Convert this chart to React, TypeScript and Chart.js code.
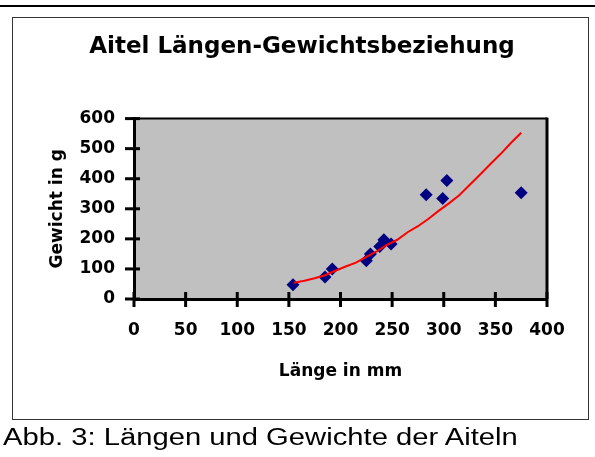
import React, { useEffect, useRef } from 'react';
import { Chart, registerables } from 'chart.js';

Chart.register(...registerables);

// ---- data ----
const lengthsMm = [154, 185, 192, 225, 229, 238, 242, 249, 283, 299, 303, 375];
const weightsG = [47, 73, 100, 127, 150, 175, 197, 183, 347, 334, 394, 353];

const trendLengthsMm = [155, 165, 175, 185, 195, 205, 215, 225, 235, 245, 255, 265, 275, 285, 295, 305, 315, 325, 335, 345, 355, 365, 375];
const trendWeightsG = [54, 61, 69, 79, 94, 108, 121, 140, 158, 180, 197, 222, 242, 266, 293, 318, 345, 379, 413, 448, 482, 519, 553];

const xMin = 0;
const xMax = 400;
const xStep = 50;
const yMin = 0;
const yMax = 600;
const yStep = 100;

const chartTitle = 'Aitel Längen-Gewichtsbeziehung';
const xTitle = 'Länge in mm';
const yTitle = 'Gewicht in g';
const caption = 'Abb. 3: Längen und Gewichte der Aiteln';

const frameAndTicks = {
  id: 'frameAndTicks',
  beforeDraw(chart: any) {
    const { ctx, chartArea } = chart;
    const { left, top, right, bottom } = chartArea;
    ctx.save();
    ctx.fillStyle = '#C0C0C0';
    ctx.fillRect(left, top, right - left, bottom - top);
    ctx.restore();
  },
  beforeDatasetsDraw(chart: any) {
    const { ctx, chartArea, scales } = chart;
    const { left, top, right, bottom } = chartArea;
    ctx.save();
    ctx.strokeStyle = '#000';
    ctx.lineWidth = 2;
    ctx.beginPath();
    ctx.moveTo(left, top);
    ctx.lineTo(right, top);
    ctx.stroke();
    ctx.lineWidth = 3;
    ctx.beginPath();
    ctx.moveTo(right, top - 1);
    ctx.lineTo(right, bottom);
    ctx.stroke();
    ctx.lineWidth = 3;
    scales.x.ticks.forEach((t: any) => {
      const px = scales.x.getPixelForValue(t.value);
      ctx.beginPath();
      ctx.moveTo(px, bottom - 7);
      ctx.lineTo(px, bottom + 8);
      ctx.stroke();
    });
    scales.y.ticks.forEach((t: any) => {
      const py = scales.y.getPixelForValue(t.value);
      ctx.beginPath();
      ctx.moveTo(left - 9, py);
      ctx.lineTo(left + 6, py);
      ctx.stroke();
    });
    ctx.restore();
  },
};

export default function App() {
  const ref = useRef<HTMLCanvasElement | null>(null);

  useEffect(() => {
    if (!ref.current) return;
    const tickFont = { family: "'DejaVu Sans', sans-serif", size: 17, weight: 'bold' as const };
    const chart = new Chart(ref.current, {
      type: 'scatter',
      data: {
        datasets: [
          {
            type: 'line',
            label: 'Trend',
            data: trendLengthsMm.map((x, i) => ({ x, y: trendWeightsG[i] })),
            borderColor: '#FF0000',
            borderWidth: 2,
            pointRadius: 0,
            tension: 0,
            fill: false,
          } as any,
          {
            label: 'Aitel',
            data: lengthsMm.map((x, i) => ({ x, y: weightsG[i] })),
            pointStyle: 'rectRot',
            pointRadius: 6.5,
            backgroundColor: '#000080',
            borderColor: '#000080',
            borderWidth: 0,
          },
        ],
      },
      options: {
        animation: false,
        responsive: false,
        maintainAspectRatio: false,
        devicePixelRatio: 1,
        layout: { padding: { left: 57, right: 48, top: 0, bottom: 0 } },
        plugins: {
          legend: { display: false },
          tooltip: { enabled: false },
          title: {
            display: true,
            text: chartTitle,
            color: '#000',
            font: { family: "'DejaVu Sans', sans-serif", size: 23, weight: 'bold' },
            padding: { top: 33, bottom: 58 },
          },
        },
        scales: {
          x: {
            type: 'linear',
            min: xMin,
            max: xMax,
            ticks: { stepSize: xStep, color: '#000', font: tickFont, padding: 13, maxRotation: 0, autoSkip: false },
            grid: { display: false },
            border: { display: true, color: '#000', width: 3 },
            title: { display: true, text: xTitle, color: '#000', font: tickFont, padding: { top: 0, bottom: 75 } },
            afterFit(s: any) {
              s.height = 158;
            },
          },
          y: {
            type: 'linear',
            min: yMin,
            max: yMax,
            ticks: { stepSize: yStep, color: '#000', font: tickFont, padding: 11 },
            grid: { display: false },
            border: { display: true, color: '#000', width: 3 },
            title: { display: true, text: yTitle, color: '#000', font: tickFont, padding: { top: -9.7, bottom: 0 } },
            afterFit(s: any) {
              s.width = 77;
            },
          },
        },
      },
      plugins: [frameAndTicks],
    });
    return () => chart.destroy();
  }, []);

  return (
    <div style={{ position: 'absolute', left: 0, top: 0, width: 595, height: 457, overflow: 'hidden', background: '#fff' }}>
      <div style={{ position: 'absolute', left: 0, top: 5, width: 595, height: 2, background: '#000' }} />
      <div
        style={{
          position: 'absolute',
          left: 12,
          top: 17,
          width: 577,
          height: 403,
          boxSizing: 'border-box',
          border: '1px solid #333',
        }}
      />
      <canvas
        ref={ref}
        width={595}
        height={457}
        style={{ position: 'absolute', left: 0, top: 0, width: 595, height: 457, display: 'block' }}
      />
      <div
        style={{
          position: 'absolute',
          left: 3,
          top: 426,
          fontFamily: "'Liberation Sans', Arial, sans-serif",
          fontSize: 23,
          lineHeight: '23px',
          whiteSpace: 'nowrap',
          color: '#000',
          transform: 'scaleX(1.27)',
          transformOrigin: 'left top',
        }}
      >
        {caption}
      </div>
    </div>
  );
}
